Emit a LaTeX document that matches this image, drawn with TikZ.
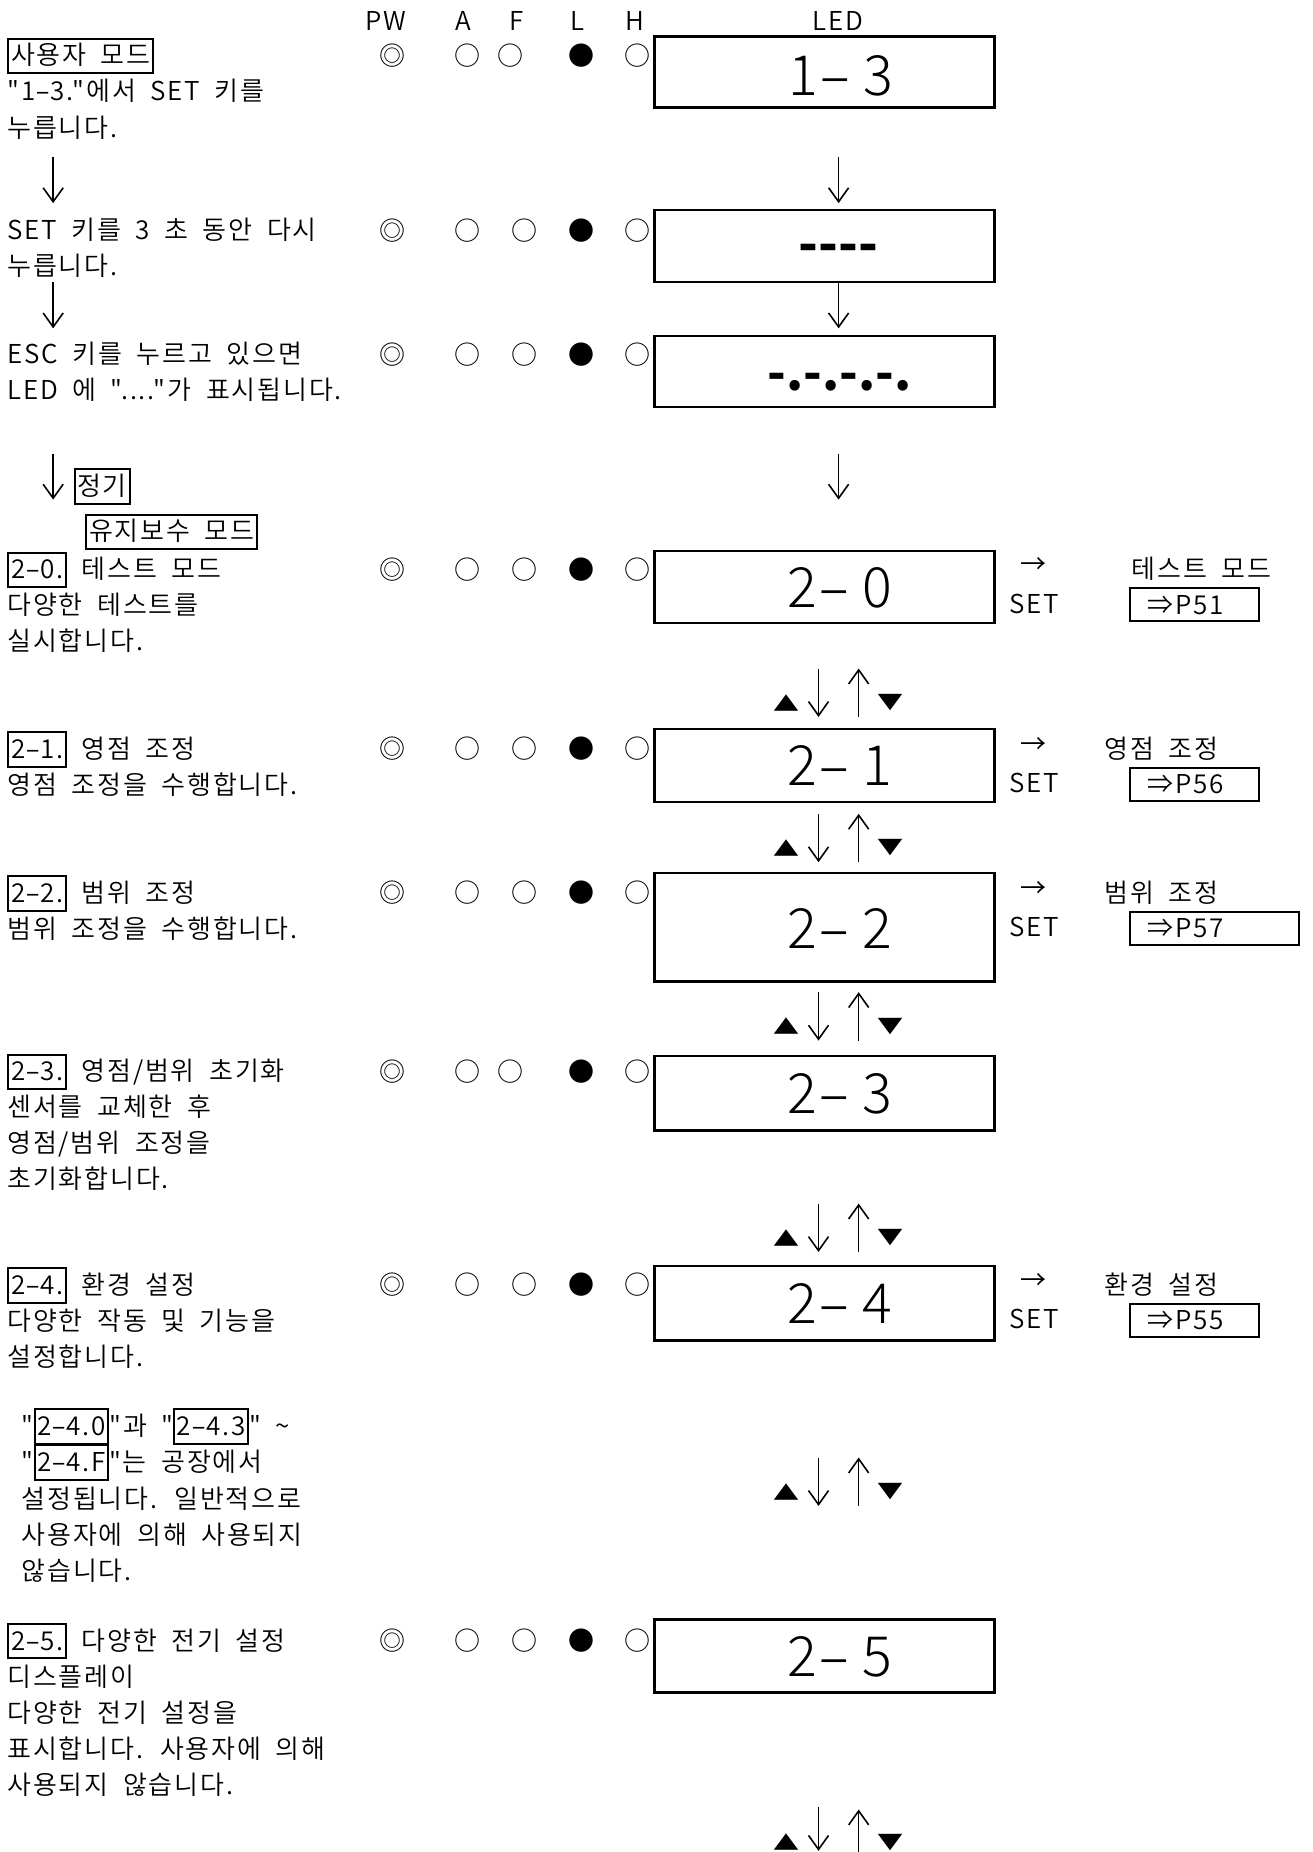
\documentclass[tikz,border=0pt]{standalone}
\usepackage{fontspec}
\IfFontExistsTF{Noto Sans CJK KR DemiLight}
  {\setmainfont{Noto Sans CJK KR DemiLight}[WordSpace=1.9,LetterSpace=7,Ligatures=TeXOff]}
  {\setmainfont{Noto Sans CJK KR}[WordSpace=1.9,LetterSpace=7,Ligatures=TeXOff]}
\IfFontExistsTF{Noto Sans CJK KR Light}
  {\newfontfamily\ledfont{Noto Sans CJK KR Light}[Ligatures=TeXOff]}
  {\newfontfamily\ledfont{Noto Sans CJK KR}[Ligatures=TeXOff]}
\newfontfamily\ledbase{Noto Sans CJK KR}[Ligatures=TeXOff]
\newfontfamily\symfont{Noto Sans CJK KR}[Ligatures=TeXOff]
\usetikzlibrary{arrows.meta}
\newcommand\uu{0.59045pt}
\newcommand\myhy{\scalebox{1.7}[1]{-}}
\newcommand\ledhy{\scalebox{1.8}[1]{-}}
\newcommand\mybx[1]{{\setlength\fboxsep{0.8pt}\setlength\fboxrule{1pt}\fbox{\rule[-2.9pt]{0pt}{14.7pt}#1}}}
\newcommand\uptri{\scalebox{1.0}[0.78]{\symfont ▲}}
\newcommand\dntri{\scalebox{1.0}[0.78]{\symfont ▼}}
\begin{document}
\begin{tikzpicture}[x=0.59045pt,y=-0.59045pt,
  font=\fontsize{13pt}{17pt}\selectfont,
  txt/.style={anchor=base west,inner sep=0pt},
  ind/.style={anchor=center,inner sep=0pt,font=\symfont\fontsize{13pt}{17pt}\selectfont},
  hdr/.style={anchor=base,inner sep=0pt},
  ledbox/.style={draw,line width=1.2pt,inner sep=0pt,minimum width=288*\uu},
  ledtxt/.style={anchor=base,inner sep=0pt,font=\ledfont\fontsize{27.75pt}{30pt}\selectfont},
  leddash/.style={anchor=base,inner sep=0pt,font=\ledbase\bfseries\fontsize{26pt}{30pt}\selectfont},
  leddot/.style={anchor=base,inner sep=0pt,font=\ledbase\bfseries\fontsize{24.5pt}{30pt}\selectfont},
  pbox/.style={draw,line width=1pt,anchor=west,minimum height=28*\uu,inner sep=0pt},
  arr/.style={line width=0.8pt,-{Straight Barb[length=7pt,width=10pt]}},
  tri/.style={anchor=center,inner sep=0pt,font=\fontsize{13pt}{17pt}\selectfont}]
\fill[white] (0,0) rectangle (1111,1568);
\useasboundingbox (0,0) rectangle (1111,1568);

% header
\node[hdr] (hPW) at (327,25.5) {PW};
\node[hdr] (hA) at (392.5,25.5) {A};
\node[hdr] (hF) at (437.5,25.5) {F};
\node[hdr] (hL) at (489,25.5) {L};
\node[hdr] (hH) at (537.5,25.5) {H};
\node[hdr] (hLED) at (709.5,25.5) {LED};

% indicators
\foreach \r/\y/\fx in {1/47/432,2/195/444,3/300/444,4/482/444,5/634/444,6/756/444,7/907/432,8/1088/444,9/1389/444}{
  \node[ind] (pw\r) at (332,\y) {◎};
  \node[ind] (a\r) at (396,\y) {○};
  \node[ind] (f\r) at (\fx,\y) {○};
  \node[ind] (l\r) at (492,\y) {●};
  \node[ind] (h\r) at (540,\y) {○};
}

% LED boxes
\node[ledbox,minimum height=60*\uu] (led1) at (698,61) {};
\node[ledbox,minimum height=61*\uu] (led2) at (698,208.5) {};
\node[ledbox,minimum height=60*\uu] (led3) at (698,314.5) {};
\node[ledbox,minimum height=61*\uu] (led20) at (698,497) {};
\node[ledbox,minimum height=62*\uu] (led21) at (698,648) {};
\node[ledbox,minimum height=92*\uu] (led22) at (698,785) {};
\node[ledbox,minimum height=63*\uu] (led23) at (698,925.5) {};
\node[ledbox,minimum height=63*\uu] (led24) at (698,1103.5) {};
\node[ledbox,minimum height=62*\uu] (led25) at (698,1402) {};

% LED texts
\node[ledtxt] (led1t) at (712,81) {1\ledhy{} 3};
\node[leddash] (led2t) at (710,222) {----};
\node[leddot] (led3t) at (711,331) {-.-.-.-.};
\node[ledtxt] (led20t) at (711,514) {2\ledhy{} 0};
\node[ledtxt] (led21t) at (711,665) {2\ledhy{} 1};
\node[ledtxt] (led22t) at (711,803) {2\ledhy{} 2};
\node[ledtxt] (led23t) at (711,942.5) {2\ledhy{} 3};
\node[ledtxt] (led24t) at (711,1120.5) {2\ledhy{} 4};
\node[ledtxt] (led25t) at (711,1419) {2\ledhy{} 5};

% left texts
\node[txt] (tA1) at (6,55) {\mybx{사용자 모드}};
\node[txt] (tA2) at (6,85.5) {"1\myhy3."에서 SET 키를};
\node[txt] (tA3) at (6,116) {누릅니다.};
\node[txt] (tB1) at (6,203) {SET 키를 3 초 동안 다시};
\node[txt] (tB2) at (6,233) {누릅니다.};
\node[txt] (tC1) at (6,308) {ESC 키를 누르고 있으면};
\node[txt] (tC2) at (6,338) {LED 에 "...."가 표시됩니다.};
\node[txt] (tJ) at (62,419.5) {\mybx{정기}};
\node[txt] (tY) at (72,458) {\mybx{유지보수 모드}};
\node[txt] (t201) at (6,490) {\mybx{2\myhy0.} 테스트 모드};
\node[txt] (t202) at (6,520.5) {다양한 테스트를};
\node[txt] (t203) at (6,551) {실시합니다.};
\node[txt] (t211) at (6,642) {\mybx{2\myhy1.} 영점 조정};
\node[txt] (t212) at (6,672.5) {영점 조정을 수행합니다.};
\node[txt] (t221) at (6,764) {\mybx{2\myhy2.} 범위 조정};
\node[txt] (t222) at (6,794.5) {범위 조정을 수행합니다.};
\node[txt] (t231) at (6,915) {\mybx{2\myhy3.} 영점/범위 초기화};
\node[txt] (t232) at (6,945.5) {센서를 교체한 후};
\node[txt] (t233) at (6,976) {영점/범위 조정을};
\node[txt] (t234) at (6,1006.5) {초기화합니다.};
\node[txt] (t241) at (6,1096) {\mybx{2\myhy4.} 환경 설정};
\node[txt] (t242) at (6,1126.5) {다양한 작동 및 기능을};
\node[txt] (t243) at (6,1157) {설정합니다.};
\node[txt] (tn1) at (18,1215.5) {"\mybx{2\myhy4.0}"과 "\mybx{2\myhy4.3}" \textasciitilde};
\node[txt] (tn2) at (18,1246) {"\mybx{2\myhy4.F}"는 공장에서};
\node[txt] (tn3) at (18,1277) {설정됩니다. 일반적으로};
\node[txt] (tn4) at (18,1307.5) {사용자에 의해 사용되지};
\node[txt] (tn5) at (18,1338) {않습니다.};
\node[txt] (t251) at (6,1397) {\mybx{2\myhy5.} 다양한 전기 설정};
\node[txt] (t252) at (6,1427.5) {디스플레이};
\node[txt] (t253) at (6,1458) {다양한 전기 설정을};
\node[txt] (t254) at (6,1488.5) {표시합니다. 사용자에 의해};
\node[txt] (t255) at (6,1519) {사용되지 않습니다.};

% right side
\foreach \r/\y/\lx/\lab/\pg/\pw in {20/482/958/테스트 모드/51/109, 21/634/935/영점 조정/56/109, 22/756/935/범위 조정/57/143, 24/1088/935/환경 설정/55/109}{
  \node[ind] (ar\r) at (875,\y-3) {→};
  \node[txt] (set\r) at (854,\y+37) {SET};
  \node[txt] (lab\r) at (\lx,\y+8) {\lab};
  \node[pbox,minimum width=\pw*\uu] (p\r) at (956,\y+30) {};
  \node[txt] (pt\r) at (971,\y+38) {⇒P\pg};
}

% single arrows
\coordinate (la1s) at (45,133); \coordinate (la1e) at (45,172);
\coordinate (la2s) at (45,239); \coordinate (la2e) at (45,278);
\coordinate (la3s) at (45,384); \coordinate (la3e) at (45,423);
\coordinate (ra1s) at (710,133); \coordinate (ra1e) at (710,172);
\coordinate (ra2e) at (710,278);
\coordinate (ra3s) at (710,384); \coordinate (ra3e) at (710,423);
\draw[arr] (la1s) -- (la1e);
\draw[arr] (la2s) -- (la2e);
\draw[arr] (la3s) -- (la3e);
\draw[arr] (ra1s) -- (ra1e);
\draw[arr] (led2.south -| ra2e) -- (ra2e);
\draw[arr] (ra3s) -- (ra3e);

% up/down pairs
\foreach \i/\t in {1/566,2/689,3/840,4/1019,5/1234}{
  \coordinate (dn\i s) at (693,\t);
  \coordinate (dn\i e) at (693,{\t+41});
  \coordinate (up\i s) at (727,{\t+41});
  \coordinate (up\i e) at (727,\t);
  \draw[arr] (dn\i s) -- (dn\i e);
  \draw[arr] (up\i s) -- (up\i e);
  \node[tri] (tu\i) at (666,{\t+29}) {\uptri};
  \node[tri] (td\i) at (754,{\t+29}) {\dntri};
}
\coordinate (dn6s) at (693,1530); \coordinate (dn6e) at (693,1567);
\coordinate (up6s) at (727,1568); \coordinate (up6e) at (727,1532);
\draw[arr] (dn6s) -- (dn6e);
\draw[arr] (up6s) -- (up6e);
\node[tri] (tu6) at (666,1560) {\uptri};
\node[tri] (td6) at (754,1560) {\dntri};
\end{tikzpicture}
\end{document}
